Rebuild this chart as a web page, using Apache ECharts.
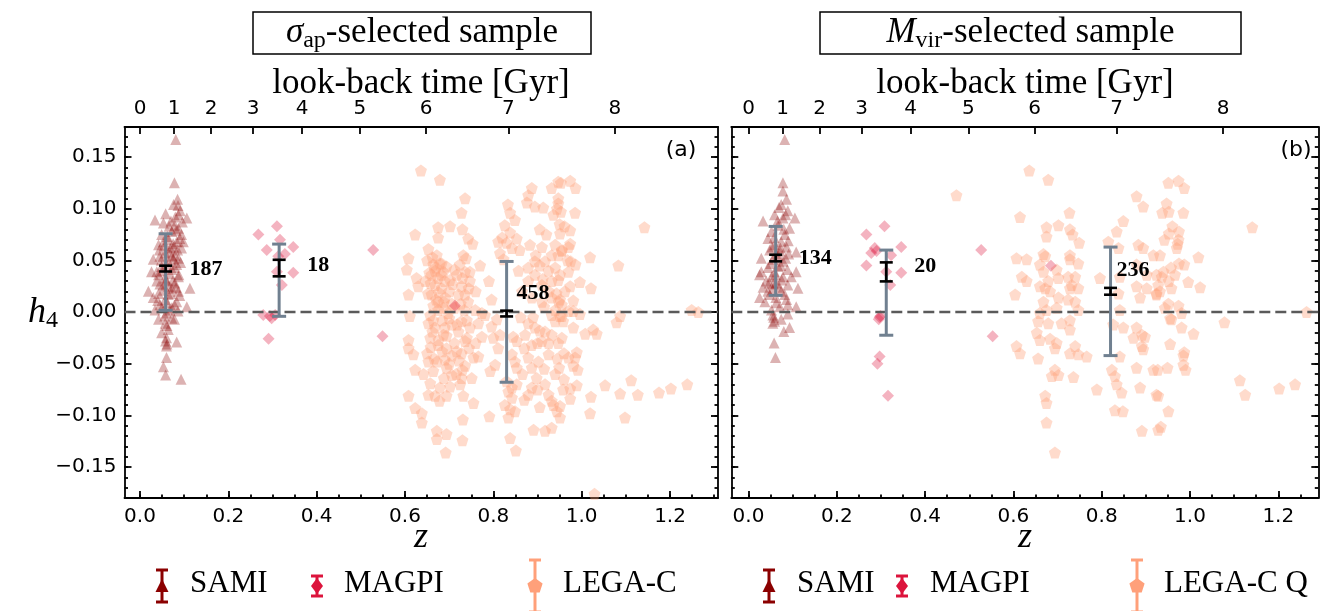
<!DOCTYPE html>
<html><head><meta charset="utf-8">
<script src="https://cdn.jsdelivr.net/npm/echarts@6/dist/echarts.min.js"></script>
<style>html,body{margin:0;padding:0;background:#fff;}#c{width:1322px;height:611px;}</style>
</head><body><div id="c"></div>
<script>
// ---------------- data: [z, h4] ----------------
const samiA = [[0.081,0.167],[0.078,0.125],[0.085,0.109],[0.076,0.104],[0.091,0.098],[0.087,0.094],[0.058,0.095],[0.034,0.089],[0.106,0.091],[0.053,0.086],[0.079,0.084],[0.087,0.081],[0.072,0.078],[0.094,0.075],[0.049,0.075],[0.064,0.070],[0.083,0.068],[0.042,0.065],[0.076,0.063],[0.094,0.062],[0.057,0.057],[0.079,0.055],[0.045,0.054],[0.087,0.052],[0.030,0.051],[0.064,0.049],[0.083,0.046],[0.049,0.044],[0.026,0.039],[0.072,0.041],[0.042,0.036],[0.087,0.034],[0.060,0.031],[0.038,0.030],[0.079,0.028],[0.053,0.026],[0.113,0.023],[0.072,0.023],[0.019,0.020],[0.042,0.018],[0.064,0.017],[0.087,0.020],[0.030,0.014],[0.057,0.012],[0.083,0.010],[0.045,0.007],[0.106,0.005],[0.072,0.004],[0.034,0.002],[0.060,-0.001],[0.042,-0.007],[0.078,-0.007],[0.057,-0.011],[0.064,-0.017],[0.049,-0.020],[0.060,-0.025],[0.083,-0.029],[0.060,-0.033],[0.060,-0.044],[0.053,-0.053],[0.058,-0.061],[0.093,-0.065],[0.038,0.039],[0.068,0.062],[0.076,0.051],[0.053,0.068],[0.098,0.068],
[0.070,0.088],[0.082,0.079],[0.062,0.073],[0.090,0.071],[0.075,0.066],[0.055,0.064],[0.085,0.060],[0.066,0.058],[0.072,0.054],[0.048,0.050],[0.092,0.048],[0.060,0.046],[0.078,0.043],[0.050,0.040],[0.068,0.037],[0.088,0.036],[0.056,0.033],[0.074,0.030],[0.045,0.027],[0.065,0.025],[0.082,0.024],[0.052,0.021],[0.070,0.018],[0.090,0.016],[0.040,0.011],[0.062,0.009],[0.078,0.007],[0.050,0.004],[0.067,0.002],[0.086,0.001],[0.056,-0.004],[0.072,-0.006],[0.061,-0.013],[0.058,-0.028],[0.061,-0.031],[0.096,0.087],[0.086,0.103],[0.080,0.092],[0.066,0.083],[0.044,0.060]];

const magpiA = [[0.268,0.075],[0.310,0.083],[0.317,0.070],[0.347,0.063],[0.287,0.060],[0.328,0.056],[0.313,0.054],[0.321,0.026],[0.310,0.039],[0.347,0.038],[0.279,-0.003],[0.298,-0.006],[0.294,-0.004],[0.306,-0.003],[0.291,-0.026],[0.528,0.060],[0.549,-0.0235],[0.713,0.006]];

const legacA = [[0.636,0.137],[0.679,0.128],[0.736,0.110],[0.728,0.096],[0.623,0.075],[0.675,0.082],[0.702,0.083],[0.675,0.072],[0.730,0.080],[0.743,0.071],[0.753,0.066],[0.653,0.061],[0.672,0.055],[0.732,0.055],[0.608,0.052],[0.604,0.041],[0.626,0.033],[0.630,0.025],[0.608,0.017],[0.664,0.046],[0.679,0.047],[0.660,0.036],[0.675,0.033],[0.687,0.039],[0.668,0.026],[0.683,0.023],[0.660,0.017],[0.675,0.010],[0.691,0.014],[0.702,0.031],[0.717,0.036],[0.736,0.039],[0.728,0.025],[0.747,0.030],[0.736,0.017],[0.743,0.010],[0.721,0.017],[0.747,0.039],[0.759,0.002],[0.796,0.012],[0.774,-0.001],[0.611,-0.004],[0.657,-0.003],[0.675,0.002],[0.687,0.004],[0.698,-0.001],[0.653,-0.011],[0.668,-0.015],[0.687,-0.022],[0.706,-0.012],[0.728,-0.009],[0.747,-0.015],[0.766,-0.011],[0.781,-0.003],[0.721,-0.019],[0.740,-0.025],[0.774,-0.024],[0.657,-0.025],[0.675,-0.032],[0.694,-0.035],[0.717,-0.038],[0.736,-0.028],[0.755,-0.044],[0.766,-0.043],[0.608,-0.027],[0.608,-0.035],[0.619,-0.041],[0.623,-0.056],[0.653,-0.048],[0.672,-0.048],[0.664,-0.057],[0.694,-0.054],[0.706,-0.061],[0.728,-0.064],[0.751,-0.064],[0.736,-0.052],[0.657,-0.069],[0.679,-0.073],[0.702,-0.072],[0.725,-0.070],[0.653,-0.080],[0.668,-0.081],[0.694,-0.081],[0.732,-0.081],[0.755,-0.088],[0.608,-0.081],[0.623,-0.093],[0.638,-0.098],[0.638,-0.107],[0.672,-0.115],[0.694,-0.118],[0.672,-0.123],[0.730,-0.124],[0.692,-0.136],[0.731,-0.104],[0.791,-0.101],[0.793,-0.057],[0.804,-0.051],[0.811,-0.035],[0.815,-0.022],[0.796,-0.014],[0.808,-0.007],
[0.833,0.104],[0.838,0.096],[0.849,0.089],[0.826,0.084],[0.811,0.068],[0.838,0.077],[0.830,0.067],[0.820,0.072],[0.815,0.057],[0.842,0.062],[0.853,0.071],[0.823,0.051],[0.834,-0.077],[0.842,-0.083],[0.826,-0.090],[0.838,-0.094],[0.849,-0.096],[0.834,-0.102],[0.838,-0.122],[0.851,-0.134],[0.842,-0.073],[0.853,-0.070],[0.830,-0.067],[0.845,-0.024],[0.853,-0.028],[0.842,-0.041],[0.849,-0.048],[0.853,-0.054],
[0.887,0.120],[0.879,0.113],[0.876,0.106],[0.894,0.102],[0.913,0.101],[0.932,0.120],[0.947,0.126],[0.947,0.110],[0.944,0.100],[0.936,0.094],[0.883,0.065],[0.910,0.063],[0.932,0.055],[0.940,0.065],[0.879,0.043],[0.894,0.049],[0.917,0.049],[0.894,0.036],[0.910,0.026],[0.932,0.030],[0.879,0.030],[0.940,0.043],[0.887,0.014],[0.910,0.010],[0.932,0.014],[0.879,-0.011],[0.894,-0.015],[0.872,-0.022],[0.887,-0.032],[0.910,-0.028],[0.925,-0.041],[0.902,-0.048],[0.879,-0.044],[0.887,-0.054],[0.898,-0.064],[0.917,-0.070],[0.925,-0.080],[0.932,-0.086],[0.887,-0.073],[0.879,-0.080],[0.936,-0.090],[0.944,-0.096],[0.891,-0.114],[0.917,-0.115],[0.932,-0.112],[0.932,-0.022],[0.940,-0.009],[0.932,-0.003],[0.917,-0.019],
[0.650,0.050],[0.662,0.053],[0.670,0.043],[0.655,0.038],[0.683,0.047],[0.690,0.030],[0.658,0.028],[0.676,0.019],[0.664,0.006],[0.688,0.010],[0.700,0.020],[0.712,0.041],[0.724,0.046],[0.738,0.052],[0.744,0.023],[0.726,0.008],[0.712,0.004],[0.700,-0.006],[0.684,-0.008],[0.662,-0.019],[0.676,-0.027],[0.694,-0.023],[0.712,-0.030],[0.728,-0.040],[0.745,-0.035],[0.760,-0.030],[0.650,-0.040],[0.666,-0.045],[0.690,-0.046],[0.706,-0.042],[0.722,-0.047],[0.688,-0.064],[0.716,-0.060],[0.678,-0.086],[0.642,-0.060],[0.760,0.020],[0.770,0.045],[0.790,0.030],[0.800,-0.025],[0.857,0.040],[0.865,0.020],[0.862,-0.005],[0.870,-0.035],[0.866,-0.060],[0.860,0.060],[0.905,0.080],[0.920,0.075],[0.950,0.085],[0.955,0.060],[0.925,0.040],[0.905,0.045],[0.915,0.005],[0.948,0.010],[0.955,-0.004],[0.900,-0.030],[0.945,-0.045],[0.915,-0.055],[0.960,-0.065],[0.905,-0.092],[0.870,-0.085],
[0.953,0.125],[0.974,0.127],[0.986,0.120],[0.947,0.105],[0.953,0.097],[0.985,0.096],[0.961,0.083],[0.974,0.079],[0.951,0.076],[0.974,0.066],[0.970,0.063],[0.955,0.059],[0.947,0.055],[0.975,0.049],[0.986,0.046],[1.019,0.053],[1.083,0.045],[1.142,0.082],[0.970,0.039],[0.951,0.036],[0.947,0.031],[0.974,0.025],[0.996,0.029],[1.021,0.023],[0.943,0.018],[0.951,0.012],[0.981,0.011],[0.955,0.007],[0.981,0.001],[0.970,0.001],[0.996,-0.002],[0.951,-0.004],[0.958,-0.009],[0.981,-0.015],[1.008,-0.021],[1.026,-0.017],[1.034,-0.021],[1.079,-0.010],[1.087,-0.004],[1.249,0.002],[1.264,0.000],[0.955,-0.025],[0.947,-0.030],[0.970,-0.044],[0.985,-0.044],[0.989,-0.039],[0.981,-0.052],[0.991,-0.056],[0.949,-0.054],[0.989,-0.071],[0.974,-0.074],[0.958,-0.075],[0.974,-0.084],[0.951,-0.091],[0.951,-0.102],[1.019,-0.098],[1.021,-0.082],[1.053,-0.071],[1.087,-0.079],[1.112,-0.066],[1.127,-0.080],[1.175,-0.078],[1.202,-0.074],[1.239,-0.070],[1.098,-0.102],[1.029,-0.176],
[0.646,0.030],[0.668,0.040],[0.682,0.036],[0.694,0.044],[0.708,0.027],[0.730,0.033],[0.652,0.018],[0.670,0.012],[0.706,0.008],[0.734,0.002],[0.664,-0.008],[0.690,-0.015],[0.718,-0.012],[0.740,-0.008],[0.658,-0.034],[0.684,-0.038],[0.700,-0.050],[0.730,-0.056],[0.896,0.055],[0.912,0.032],[0.926,0.020],[0.940,0.002],[0.962,0.020],[0.968,0.050],[0.890,-0.005],[0.905,-0.018],[0.925,-0.030],[0.940,-0.060],[0.960,-0.040],[0.900,-0.075]];

const samiB = [[0.082,0.167],[0.078,0.125],[0.078,0.117],[0.086,0.109],[0.074,0.104],[0.089,0.098],[0.059,0.094],[0.105,0.091],[0.033,0.088],[0.078,0.091],[0.067,0.084],[0.093,0.081],[0.052,0.078],[0.082,0.075],[0.044,0.071],[0.074,0.068],[0.059,0.065],[0.086,0.063],[0.048,0.060],[0.071,0.059],[0.108,0.058],[0.029,0.052],[0.055,0.051],[0.078,0.049],[0.044,0.043],[0.067,0.044],[0.108,0.039],[0.025,0.036],[0.052,0.034],[0.078,0.034],[0.040,0.030],[0.063,0.028],[0.089,0.026],[0.033,0.024],[0.112,0.023],[0.055,0.022],[0.074,0.020],[0.048,0.017],[0.025,0.014],[0.086,0.012],[0.037,0.010],[0.063,0.009],[0.089,0.007],[0.108,0.005],[0.052,0.002],[0.089,-0.002],[0.055,-0.003],[0.074,-0.007],[0.055,-0.011],[0.093,-0.015],[0.080,-0.019],[0.058,-0.030],[0.061,-0.044],[0.067,0.055],[0.059,0.039],[0.044,0.020],[0.029,0.039],[0.097,0.034],
[0.066,0.088],[0.080,0.080],[0.058,0.072],[0.090,0.069],[0.072,0.062],[0.062,0.056],[0.084,0.052],[0.050,0.047],[0.073,0.045],[0.088,0.041],[0.061,0.036],[0.075,0.031],[0.056,0.027],[0.070,0.024],[0.047,0.028],[0.082,0.017],[0.062,0.014],[0.071,0.005],[0.057,-0.005],[0.059,-0.009],[0.084,0.094],[0.069,0.101],[0.091,0.056],[0.053,0.063]];

const magpiB = [[0.267,0.075],[0.308,0.083],[0.286,0.062],[0.278,0.057],[0.290,0.059],[0.323,0.055],[0.346,0.063],[0.267,0.045],[0.312,0.039],[0.346,0.038],[0.321,0.026],[0.297,-0.005],[0.295,-0.007],[0.299,-0.004],[0.297,-0.043],[0.292,-0.050],[0.316,-0.081],[0.527,0.060],[0.553,-0.0235],[0.685,0.0447]];

const legacB = [[0.471,0.113],
[0.636,0.137],[0.679,0.128],[0.615,0.092],[0.727,0.096],[0.675,0.082],[0.702,0.084],[0.675,0.073],[0.728,0.080],[0.734,0.075],[0.749,0.067],[0.607,0.052],[0.630,0.051],[0.668,0.056],[0.672,0.054],[0.660,0.046],[0.728,0.055],[0.728,0.051],[0.747,0.047],[0.619,0.034],[0.630,0.030],[0.668,0.039],[0.679,0.030],[0.702,0.033],[0.698,0.041],[0.724,0.034],[0.740,0.034],[0.604,0.017],[0.660,0.025],[0.672,0.023],[0.683,0.020],[0.702,0.014],[0.728,0.023],[0.732,0.026],[0.747,0.023],[0.668,0.010],[0.724,0.012],[0.740,0.010],[0.675,0.002],[0.698,0.004],[0.660,-0.001],[0.747,0.002],[0.656,-0.009],[0.679,-0.011],[0.709,-0.011],[0.728,-0.008],[0.728,-0.017],[0.653,-0.020],[0.660,-0.027],[0.683,-0.026],[0.698,-0.030],[0.694,-0.035],[0.607,-0.033],[0.615,-0.040],[0.656,-0.045],[0.728,-0.040],[0.740,-0.033],[0.747,-0.041],[0.766,-0.043],[0.694,-0.056],[0.702,-0.061],[0.687,-0.062],[0.736,-0.063],[0.672,-0.081],[0.675,-0.088],[0.675,-0.107],[0.694,-0.136],[0.789,-0.075],[0.796,0.033],[0.815,0.068],[0.834,0.078],[0.849,0.088],[0.838,0.062],[0.841,0.034],[0.838,0.018],[0.841,0.002],[0.849,-0.015],[0.826,-0.012],[0.841,-0.043],[0.823,-0.056],[0.830,-0.062],[0.834,-0.070],[0.845,-0.078],[0.830,-0.095],[0.848,-0.096],[0.879,0.112],[0.894,0.102],[0.883,0.065],[0.894,0.062],[0.917,0.055],[0.879,0.046],[0.902,0.036],[0.924,0.036],[0.879,0.025],[0.902,0.023],[0.887,0.014],[0.924,0.017],[0.879,-0.015],[0.891,-0.022],[0.872,-0.025],[0.898,-0.024],[0.891,-0.033],[0.894,-0.036],[0.879,-0.054],[0.887,-0.073],[0.917,-0.056],[0.891,-0.115],[0.924,-0.080],[0.928,-0.114],
[0.951,0.125],[0.974,0.127],[0.987,0.120],[0.947,0.105],[0.937,0.096],[0.952,0.097],[0.985,0.096],[0.960,0.083],[0.952,0.076],[0.975,0.078],[0.942,0.070],[0.974,0.070],[0.972,0.066],[0.970,0.062],[0.932,0.055],[1.019,0.053],[0.975,0.047],[0.987,0.046],[0.957,0.043],[0.940,0.039],[0.966,0.036],[0.936,0.034],[0.952,0.030],[0.996,0.029],[1.023,0.024],[0.928,0.026],[0.958,0.023],[0.924,0.018],[0.932,0.020],[0.951,0.008],[0.974,0.006],[0.943,0.004],[0.981,-0.001],[0.955,-0.006],[0.958,-0.007],[0.981,-0.015],[1.008,-0.021],[0.955,-0.031],[0.987,-0.039],[0.985,-0.042],[0.985,-0.051],[0.990,-0.056],[0.949,-0.054],[0.927,-0.056],[0.928,-0.081],[0.951,-0.096],[0.934,-0.111],[1.078,-0.010],[1.141,0.082],[1.113,-0.066],[1.125,-0.080],[1.202,-0.074],[1.238,-0.070],[1.264,0.000]];

// summary per sample: [z, mean, error of mean, lower, upper, N]
const statsA = [[0.058,0.0420,0.0028,0.0016,0.0757,187],[0.315,0.0425,0.0080,-0.0042,0.0657,18],[0.830,-0.0015,0.0028,-0.0680,0.0489,458]];
const statsB = [[0.0615,0.0522,0.0032,0.0161,0.0828,134],[0.312,0.0388,0.0092,-0.0225,0.0599,20],[0.820,0.0200,0.0033,-0.0422,0.0628,236]];

// tick labels
const zTicks = [0,0.2,0.4,0.6,0.8,1.0,1.2];
const zMinor = [0,0.05,0.1,0.15,0.2,0.25,0.3,0.35,0.4,0.45,0.5,0.55,0.6,0.65,0.7,0.75,0.8,0.85,0.9,0.95,1.0,1.05,1.1,1.15,1.2,1.25,1.3];
const lookbackLabels = [0,1,2,3,4,5,6,7,8];
const lookbackZ = [0,0.0775,0.161,0.256,0.367,0.498,0.648,0.834,1.075];
const h4Ticks = [-0.15,-0.10,-0.05,0,0.05,0.10,0.15];
const h4Minor = [-0.17,-0.16,-0.15,-0.14,-0.13,-0.12,-0.11,-0.10,-0.09,-0.08,-0.07,-0.06,-0.05,-0.04,-0.03,-0.02,-0.01,0,0.01,0.02,0.03,0.04,0.05,0.06,0.07,0.08,0.09,0.10,0.11,0.12,0.13,0.14,0.15,0.16,0.17];
const legendNamesA = ['SAMI','MAGPI','LEGA-C'];
const legendNamesB = ['SAMI','MAGPI','LEGA-C Q'];

// ---------------- styling / layout ----------------
const C_SAMI='#8B0000', C_MAGPI='#DC143C', C_LEGAC='#FFA07A';
const PENT='path://M0,-10L9.51,-3.09L5.88,8.09L-5.88,8.09L-9.51,-3.09Z';
const SERIF='"Liberation Serif", "DejaVu Serif", serif';
const SANS='"DejaVu Sans", sans-serif';
const YMIN=-0.18, YMAX=0.179;
const panels = [
  {grid:{left:124.5,top:127,width:593.5,height:371}, xmin:-0.0351, xmax:1.3086, yLabels:true,
   sami:samiA, magpi:magpiA, legac:legacA, stats:statsA, offs:[[24,1],[28,-3],[10,-20]]},
  {grid:{left:731.3,top:127,width:587,height:371}, xmin:-0.039, xmax:1.2906, yLabels:false,
   sami:samiB, magpi:magpiB, legac:legacB, stats:statsB, offs:[[23,0],[28,-6],[6,-21]]}
];

const AX = {color:'#000', width:1.8};
const LINE_ON = {show:true, onZero:false, lineStyle:AX};
const LINE_OFF = {show:false, onZero:false};
function mkX(gi,p){
  const base={gridIndex:gi,type:'value',min:p.xmin,max:p.xmax,splitLine:{show:false}};
  return [
    Object.assign({},base,{position:'bottom',axisLine:LINE_ON,
      axisTick:{show:true,inside:true,length:7,lineStyle:AX,customValues:zTicks},
      axisLabel:{show:true,customValues:zTicks,formatter:v=>(+v).toFixed(1),margin:9,fontFamily:SANS,fontSize:20,color:'#000'}}),
    Object.assign({},base,{position:'bottom',axisLine:LINE_OFF,
      axisTick:{show:true,inside:true,length:3.5,lineStyle:AX,customValues:zMinor.filter(v=>v>=p.xmin&&v<=p.xmax)},
      axisLabel:{show:false}}),
    Object.assign({},base,{position:'top',axisLine:LINE_ON,
      axisTick:{show:true,inside:true,length:7,lineStyle:AX,customValues:lookbackZ},
      axisLabel:{show:true,customValues:lookbackZ,margin:8,fontFamily:SANS,fontSize:20,color:'#000',
        formatter:v=>{const i=lookbackZ.findIndex(t=>Math.abs(t-v)<1e-6);return i<0?'':String(lookbackLabels[i]);}}})
  ];
}
function mkY(gi,p){
  const base={gridIndex:gi,type:'value',min:YMIN,max:YMAX,splitLine:{show:false}};
  const fmt=v=>(v<-1e-9?'\u2212':'')+Math.abs(v).toFixed(2);
  return [
    Object.assign({},base,{position:'left',axisLine:LINE_ON,
      axisTick:{show:true,inside:true,length:7,lineStyle:AX,customValues:h4Ticks},
      axisLabel:{show:p.yLabels,customValues:h4Ticks,formatter:fmt,margin:8,fontFamily:SANS,fontSize:20,color:'#000'}}),
    Object.assign({},base,{position:'left',axisLine:LINE_OFF,
      axisTick:{show:true,inside:true,length:3.5,lineStyle:AX,customValues:h4Minor},axisLabel:{show:false}}),
    Object.assign({},base,{position:'right',axisLine:LINE_ON,
      axisTick:{show:true,inside:true,length:7,lineStyle:AX,customValues:h4Ticks},axisLabel:{show:false}}),
    Object.assign({},base,{position:'right',axisLine:LINE_OFF,
      axisTick:{show:true,inside:true,length:3.5,lineStyle:AX,customValues:h4Minor},axisLabel:{show:false}})
  ];
}
function errRender(offs){
  return function(params, api){
    const z=api.value(0), m=api.value(1), e=api.value(2), lo=api.value(3), hi=api.value(4), n=api.value(5);
    const a=api.coord([z,lo]), b=api.coord([z,hi]), c=api.coord([z,m-e]), d=api.coord([z,m+e]), pm=api.coord([z,m]);
    const o=offs[params.dataIndex];
    const G={stroke:'#708090',lineWidth:3}, K={stroke:'#000',lineWidth:2.6};
    const L=(x1,y1,x2,y2,s)=>({type:'line',shape:{x1,y1,x2,y2},style:s});
    return {type:'group',children:[
      L(a[0],a[1],b[0],b[1],G), L(a[0]-7,a[1],a[0]+7,a[1],G), L(b[0]-7,b[1],b[0]+7,b[1],G),
      L(c[0],c[1],d[0],d[1],K), L(c[0]-6.5,c[1],c[0]+6.5,c[1],K), L(d[0]-6.5,d[1],d[0]+6.5,d[1],K),
      {type:'text',x:pm[0]+o[0],y:pm[1]+o[1],style:{text:String(n),font:'bold 22px '+SERIF,fill:'#000',
        align:'left',verticalAlign:'middle',textAlign:'left',textVerticalAlign:'middle'}}
    ]};
  };
}

const grids=[], xAxes=[], yAxes=[], series=[];
panels.forEach((p,gi)=>{
  grids.push(p.grid);
  const xi=xAxes.length, yi=yAxes.length;
  xAxes.push(...mkX(gi,p)); yAxes.push(...mkY(gi,p));
  const ax={xAxisIndex:xi,yAxisIndex:yi};
  series.push(Object.assign({type:'scatter',data:p.legac,symbol:PENT,symbolSize:12,itemStyle:{color:C_LEGAC,opacity:0.38},z:2,silent:true},ax));
  series.push(Object.assign({type:'scatter',data:p.sami,symbol:'triangle',symbolSize:11,itemStyle:{color:C_SAMI,opacity:0.3},z:2,silent:true},ax));
  series.push(Object.assign({type:'scatter',data:p.magpi,symbol:'diamond',symbolSize:[12,12],itemStyle:{color:C_MAGPI,opacity:0.32},z:2,silent:true},ax));
  series.push(Object.assign({type:'line',data:[[p.xmin,0],[p.xmax,0]],symbol:'none',lineStyle:{color:'#5a5a5a',width:2.3,type:[11,5]},z:3,silent:true},ax));
  series.push(Object.assign({type:'custom',data:p.stats,renderItem:errRender(p.offs),z:4,silent:true},ax));
});

// ---------------- graphic annotations ----------------
const g=[];
function T(x,y,text,font){return {type:'text',x,y,style:{text,font,fill:'#000',align:'center',verticalAlign:'middle',textAlign:'center',textVerticalAlign:'middle'}};}
function titleBox(x0,x1,sym,sub,rest){
  const cx=(x0+x1)/2;
  g.push({type:'rect',shape:{x:x0,y:12,width:x1-x0,height:42},style:{fill:'#fff',stroke:'#000',lineWidth:1.5},z:10});
  g.push({type:'text',x:cx,y:33,z:11,style:{text:'{i|'+sym+'}{s|'+sub+'}{r|'+rest+'}',align:'center',verticalAlign:'middle',textAlign:'center',textVerticalAlign:'middle',
    rich:{i:{fontStyle:'italic',fontSize:35,fontFamily:SERIF,lineHeight:40,verticalAlign:'middle',color:'#000'},
          s:{fontSize:24,fontFamily:SERIF,lineHeight:16,verticalAlign:'bottom',color:'#000'},
          r:{fontSize:35,fontFamily:SERIF,lineHeight:40,verticalAlign:'middle',color:'#000'}}}});
}
titleBox(253,591,'σ','ap','-selected sample');
titleBox(820,1241,'M','vir','-selected sample');
g.push(T(421,84,'look-back time [Gyr]','35px '+SERIF));
g.push(T(1025,84,'look-back time [Gyr]','35px '+SERIF));
g.push(T(681,150,'(a)','22px '+SANS));
g.push(T(1296,150,'(b)','22px '+SANS));
g.push(T(421,538,'z','italic 36px '+SERIF));
g.push(T(1025,538,'z','italic 36px '+SERIF));
g.push({type:'text',x:43,y:313,style:{text:'{h|h}{s|4}',align:'center',verticalAlign:'middle',textAlign:'center',textVerticalAlign:'middle',
  rich:{h:{fontStyle:'italic',fontSize:36,fontFamily:SERIF,lineHeight:40,verticalAlign:'middle',color:'#000'},
        s:{fontSize:24,fontFamily:SERIF,lineHeight:16,verticalAlign:'bottom',color:'#000'}}}});

// legend
function pentPts(cx,cy,r){const pts=[];for(let k=0;k<5;k++){const a=-Math.PI/2+k*2*Math.PI/5;pts.push([cx+r*Math.cos(a),cy+r*Math.sin(a)]);}return pts;}
function legItem(ix,tx,kind,label){
  const cy=586;
  let color, half;
  if(kind===0){color=C_SAMI;half=16;} else if(kind===1){color=C_MAGPI;half=10;} else {color=C_LEGAC;half=26;}
  const s={stroke:color,lineWidth:3};
  g.push({type:'line',shape:{x1:ix,y1:cy-half,x2:ix,y2:cy+half},style:s});
  g.push({type:'line',shape:{x1:ix-6,y1:cy-half,x2:ix+6,y2:cy-half},style:s});
  g.push({type:'line',shape:{x1:ix-6,y1:cy+half,x2:ix+6,y2:cy+half},style:s});
  if(kind===0) g.push({type:'polygon',shape:{points:[[ix,cy-7],[ix+6.5,cy+6],[ix-6.5,cy+6]]},style:{fill:color}});
  else if(kind===1) g.push({type:'polygon',shape:{points:[[ix,cy-8],[ix+6,cy],[ix,cy+8],[ix-6,cy]]},style:{fill:color}});
  else g.push({type:'polygon',shape:{points:pentPts(ix,cy,8)},style:{fill:color}});
  g.push({type:'text',x:tx,y:584,style:{text:label,font:'31px '+SERIF,fill:'#000',align:'left',verticalAlign:'middle',textAlign:'left',textVerticalAlign:'middle'}});
}
legItem(162,190,0,legendNamesA[0]); legItem(317,344,1,legendNamesA[1]); legItem(535,563,2,legendNamesA[2]);
legItem(769,797,0,legendNamesB[0]); legItem(902,930,1,legendNamesB[1]); legItem(1137,1164,2,legendNamesB[2]);

const chart=echarts.init(document.getElementById('c'),null,{renderer:'canvas'});
chart.setOption({animation:false,backgroundColor:'#fff',grid:grids,xAxis:xAxes,yAxis:yAxes,series:series,graphic:{elements:g}});
</script></body></html>
